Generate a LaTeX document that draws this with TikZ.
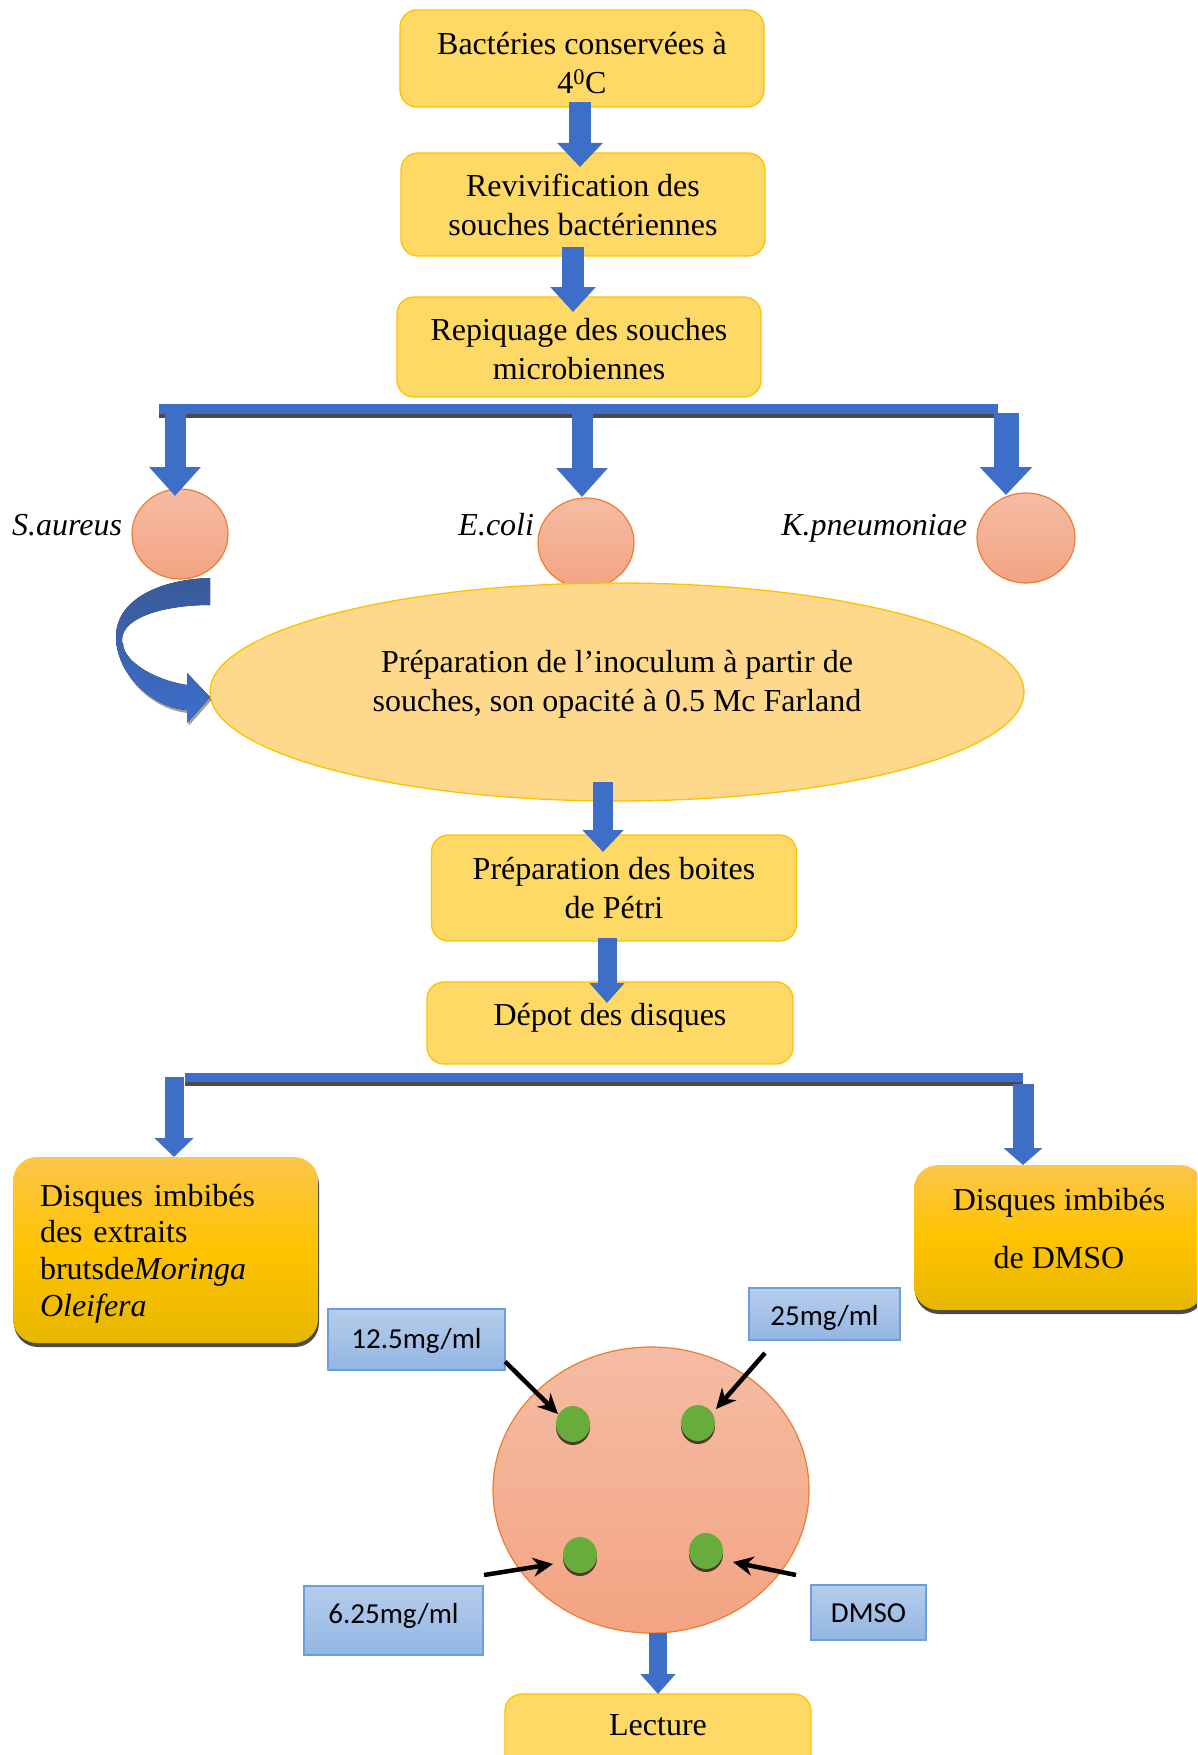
\documentclass[tikz,border=0pt]{standalone}
\usepackage{fontspec}
\setmainfont{Liberation Serif}
\newfontfamily\tagfont{Carlito}
\usetikzlibrary{arrows.meta,shapes.geometric,calc,shadows}

\definecolor{stepfill}{HTML}{FFD966}
\definecolor{stepline}{HTML}{FFC000}
\definecolor{ovalfill}{HTML}{FED98B}
\definecolor{flowblue}{HTML}{3E6FC8}
\definecolor{bandtop}{HTML}{3A5A98}
\definecolor{bandbot}{HTML}{3C6ECC}
\definecolor{shadegray}{HTML}{4B4B4B}
\definecolor{celltop}{HTML}{F5BCA4}
\definecolor{cellbot}{HTML}{F3A482}
\definecolor{cellline}{HTML}{ED7D31}
\definecolor{tagtop}{HTML}{B6CDEC}
\definecolor{tagbot}{HTML}{93B6E3}
\definecolor{tagline}{HTML}{6A9FDB}
\definecolor{discgreen}{HTML}{68AD3C}
\definecolor{discrim}{HTML}{503A2C}
\definecolor{goldtop}{HTML}{FCC64A}
\definecolor{goldmid}{HTML}{FFC300}
\definecolor{goldbot}{HTML}{E6B700}

\tikzset{
  every node/.style={inner sep=0pt, outer sep=0pt},
  serif32/.style={font=\fontsize{32}{39}\selectfont},
  stepbox/.style={draw=stepline, line width=1.3pt, fill=stepfill, rounded corners=17pt, align=center, serif32},
  goldbox/.style={rounded corners=24pt, top color=goldtop, bottom color=goldbot, middle color=goldmid,
    drop shadow={shadow xshift=1pt, shadow yshift=-4pt, fill=shadegray, opacity=1}},
  cell/.style={ellipse, draw=cellline, line width=1.2pt, top color=celltop, bottom color=cellbot},
  species/.style={font=\fontsize{32}{39}\selectfont\itshape, anchor=base east},
  tagbox/.style={draw=tagline, line width=1.3pt, top color=tagtop, bottom color=tagbot,
    font=\tagfont\fontsize{29}{34}\selectfont},
  disc/.style={ellipse, fill=discgreen, minimum width=34pt, minimum height=36pt,
    drop shadow={shadow xshift=0pt, shadow yshift=-3pt, fill=discrim, opacity=1}},
  hbar/.style={fill=flowblue, drop shadow={shadow xshift=0pt, shadow yshift=-4pt, fill=shadegray, opacity=1}},
  flow/.style n args={3}{draw=flowblue, line width=#1, -{Triangle[width=#2, length=#3]}},
  pointer/.style={draw=black, line width=4.5pt, -{Stealth[length=20pt, width=19pt]}},
}

\begin{document}
\begin{tikzpicture}[x=1pt, y=-1pt]
\useasboundingbox (0,0) rectangle (1197,1755);
\clip (0,0) rectangle (1197,1755);

% preparation of the strains
\node[stepbox, minimum width=364pt, minimum height=97pt] (b1) at (582,58.5) {\rule{0pt}{31pt}Bactéries conservées à\\4\textsuperscript{0}C};
\node[stepbox, minimum width=364pt, minimum height=103pt] (b2) at (583,204.5) {Revivification des\\souches bactériennes};
\node[stepbox, minimum width=364pt, minimum height=100pt] (b3) at (579,347) {\rule{0pt}{27pt}Repiquage des souches\\microbiennes};
\node[hbar, minimum width=839pt, minimum height=10pt] (bar1) at (578.5,409) {};

\draw[flow={22pt}{44pt}{24pt}] ($(b1.south)+(-2,-5)$) -- ($(b2.north)+(-3,14)$);
\draw[flow={22pt}{44pt}{25pt}] ($(b2.south)+(-10,-9)$) -- ($(b3.north)+(-6,15)$);

% the three strains
\node[cell, minimum width=96pt, minimum height=90pt] (sa) at (180,534) {};
\node[cell, minimum width=96pt, minimum height=90pt] (ec) at (586,543) {};
\node[cell, minimum width=98pt, minimum height=90pt] (kp) at (1026,538) {};
\node[species] (lsa) at (122,535) {S.aureus};
\node[species] (lec) at (534,535) {E.coli};
\node[species] (lkp) at (967,535) {K.pneumoniae};

\draw[flow={21pt}{50pt}{29pt}] ($(bar1.west)+(16,0)$) -- ($(sa.north)+(-5,7)$);
\draw[flow={21pt}{50pt}{29pt}] ($(bar1.center)+(3.5,0)$) -- ($(ec.north)+(-4,-1)$);
\draw[flow={25pt}{51pt}{28pt}] ($(bar1.east)+(8,4)$) -- ($(kp.north)+(-20,2)$);

% inoculum
\node[ellipse, draw=stepline, line width=1.3pt, fill=ovalfill, minimum width=814pt, minimum height=218pt] (oval) at (617,692) {};
\node[serif32, align=center] (ovaltext) at (617,684) {Préparation de l’inoculum à partir de\\souches, son opacité à 0.5 Mc Farland};

% twisted band arrow from the first strain into the inoculum
\begin{scope}[shift={(oval.west)}]
  \fill[shadegray, opacity=0.55, shift={(1.5,3)}]
    (-94,-55) .. controls (-94,-20) and (-60,15) .. (-23,18)
    -- (-23,31) -- (0,5) -- (-23,-19) -- (-23,-7)
    .. controls (-55,-12) and (-88,-30) .. (-88,-52) -- cycle;
  \fill[top color=bandtop, bottom color=bandbot]
    (0,-114) .. controls (-45,-113) and (-94,-95) .. (-94,-55)
    .. controls (-94,-20) and (-60,15) .. (-23,18)
    -- (-23,31) -- (0,5) -- (-23,-19) -- (-23,-7)
    .. controls (-55,-12) and (-88,-30) .. (-88,-52)
    .. controls (-88,-75) and (-45,-87) .. (0,-87) -- cycle;
\end{scope}

% Petri dishes and discs
\node[stepbox, minimum width=365pt, minimum height=106pt] (b4) at (614,888) {Préparation des boites\\de Pétri};
\node[stepbox, minimum width=366pt, minimum height=82pt, text height=24pt, text depth=20pt] (b5) at (610,1023) {Dépot des disques};
\node[hbar, minimum width=838pt, minimum height=9pt] (bar2) at (604,1077.5) {};

\draw[flow={20pt}{40pt}{22pt}] ($(oval.south)+(-14,-19)$) -- ($(b4.north)+(-11,17)$);
\draw[flow={19pt}{34pt}{20pt}] ($(b4.south)+(-7,-3)$) -- ($(b5.north)+(-3,21)$);

\node[goldbox, minimum width=305pt, minimum height=186pt, text width=251pt, align=left,
  font=\fontsize{32}{36.7}\selectfont] (bl) at (165.5,1250)
  {\rule{0pt}{29pt}Disques imbibés\\des extraits\\brutsde\textit{Moringa}\\\textit{Oleifera}};
\node[goldbox, minimum width=290pt, minimum height=145pt] (br) at (1059,1237.5) {};
\node[serif32, align=center] (brtext) at (1059,1228.5) {Disques imbibés\\[19pt]de DMSO};

\draw[flow={19pt}{38pt}{19pt}] ($(bar2.west)+(-11,-0.5)$) -- ($(bl.north)+(8.5,0)$);
\draw[flow={21pt}{38pt}{17pt}] ($(bar2.east)+(0,6.5)$) -- ($(br.north)+(-36,0)$);

% concentrations
\node[tagbox, minimum width=177pt, minimum height=61pt, text height=22pt, text depth=5pt] (c125) at (416.5,1339.5) {12.5mg/ml};
\node[tagbox, minimum width=151pt, minimum height=52pt, text height=26pt, text depth=3pt] (c25) at (824.5,1314) {25mg/ml};
\node[tagbox, minimum width=179pt, minimum height=69pt, text height=20pt, text depth=14pt] (c625) at (393.5,1620.5) {6.25mg/ml};
\node[tagbox, minimum width=115pt, minimum height=55pt, text height=23pt, text depth=3pt] (cdm) at (868.5,1612.5) {DMSO};

\node[cell, minimum width=316pt, minimum height=286pt] (dish) at (651,1490) {};
\node[disc] (d1) at (573,1424) {};
\node[disc] (d2) at (698,1423) {};
\node[disc] (d3) at (580,1555) {};
\node[disc] (d4) at (706,1551) {};

\draw[pointer] ($(c125.east)+(0,22)$) -- ($(d1)+(-15,-10)$);
\draw[pointer] ($(c25.south west)+(16,13)$) -- ($(d2)+(18,-14)$);
\draw[pointer] ($(c625.north east)+(1,-11)$) -- ($(d3)+(-27,9)$);
\draw[pointer] ($(cdm.north west)+(-15,-10)$) -- ($(d4)+(27,11)$);

% reading
\node[stepbox, minimum width=306pt, minimum height=82pt, text height=22pt, text depth=22pt] (lect) at (658,1735) {Lecture};
\draw[flow={18pt}{34pt}{20pt}] ($(dish.south)+(7,0)$) -- (lect.north);
\end{tikzpicture}
\end{document}
